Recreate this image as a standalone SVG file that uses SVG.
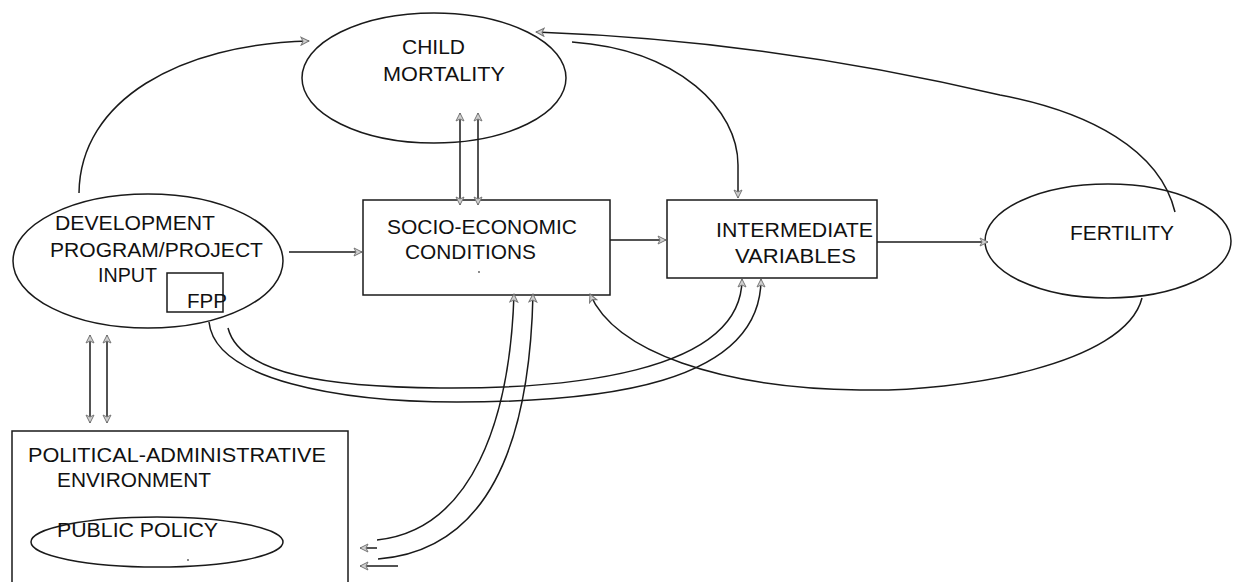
<svg xmlns="http://www.w3.org/2000/svg" width="1234" height="582" viewBox="0 0 1234 582">
<defs>
<marker id="ah" viewBox="0 0 10 10" refX="9" refY="5" markerWidth="10" markerHeight="10" markerUnits="userSpaceOnUse" orient="auto-start-reverse">
<path d="M1,1 L9,5 L1,9 L3,5 z" fill="#cfcfcf" stroke="#777" stroke-width="1"/>
</marker>
<style>
.shape{fill:none;stroke:#1a1a1a;stroke-width:1.5}
.ln{fill:none;stroke:#1a1a1a;stroke-width:1.5}
.arr{marker-end:url(#ah)}
.both{marker-start:url(#ah);marker-end:url(#ah)}
text{font-family:"Liberation Sans",Arial,sans-serif;font-size:20px;fill:#111}
</style>
</defs>
<rect width="1234" height="582" fill="#fff"/>

<g id="child-mortality">
<ellipse class="shape" cx="434" cy="78" rx="132" ry="65"/>
<text x="402" y="54" textLength="63" lengthAdjust="spacingAndGlyphs">CHILD</text>
<text x="383" y="81" textLength="122" lengthAdjust="spacingAndGlyphs">MORTALITY</text>
</g>

<g id="development">
<ellipse class="shape" cx="148" cy="261" rx="135" ry="67"/>
<text x="55" y="230" textLength="160" lengthAdjust="spacingAndGlyphs">DEVELOPMENT</text>
<text x="50" y="257" textLength="213" lengthAdjust="spacingAndGlyphs">PROGRAM/PROJECT</text>
<text x="98" y="282" textLength="59" lengthAdjust="spacingAndGlyphs">INPUT</text>
</g>

<g id="fpp">
<rect class="shape" x="167" y="273" width="56" height="39"/>
<text x="187" y="308" textLength="40" lengthAdjust="spacingAndGlyphs">FPP</text>
</g>

<g id="socio-economic">
<rect class="shape" x="363" y="200" width="247" height="95"/>
<text x="387" y="234" textLength="190" lengthAdjust="spacingAndGlyphs">SOCIO-ECONOMIC</text>
<text x="405" y="259" textLength="131" lengthAdjust="spacingAndGlyphs">CONDITIONS</text>
<circle cx="479" cy="272" r="0.9" fill="#555"/>
</g>

<g id="intermediate">
<rect class="shape" x="667" y="200" width="210" height="78"/>
<text x="716" y="237" textLength="157" lengthAdjust="spacingAndGlyphs">INTERMEDIATE</text>
<text x="735" y="263" textLength="121" lengthAdjust="spacingAndGlyphs">VARIABLES</text>
</g>

<g id="fertility">
<ellipse class="shape" cx="1108" cy="241" rx="123" ry="57"/>
<text x="1070" y="240" textLength="104" lengthAdjust="spacingAndGlyphs">FERTILITY</text>
</g>

<g id="political">
<rect class="shape" x="12" y="431" width="336" height="170"/>
<text x="28" y="462" textLength="298" lengthAdjust="spacingAndGlyphs">POLITICAL-ADMINISTRATIVE</text>
<text x="57" y="487" textLength="154" lengthAdjust="spacingAndGlyphs">ENVIRONMENT</text>
</g>

<g id="public-policy">
<ellipse class="shape" cx="157" cy="542" rx="126" ry="25"/>
<text x="57" y="537" textLength="161" lengthAdjust="spacingAndGlyphs">PUBLIC POLICY</text>
<circle cx="188" cy="560" r="0.9" fill="#555"/>
</g>

<g id="connectors">
<path class="ln arr" d="M79 193 C80 100 180 44 309 41"/>
<path class="ln arr" d="M289 252 H362"/>
<path class="ln both" d="M460 205 V113"/>
<path class="ln both" d="M478 205 V113"/>
<path class="ln arr" d="M610 240 H666"/>
<path class="ln arr" d="M877 242 H988"/>
<path class="ln arr" d="M572 42 C680 50 738 110 738 165 V198"/>
<path class="ln arr" d="M1175 212 C1160 150 1090 112 1000 95 C860 62 700 38 536 32"/>
<path class="ln arr" d="M1142 298 C1125 365 960 392 860 390 C720 388 615 352 590 294"/>
<path class="ln arr" d="M228 328 C240 375 330 387 440 388 C560 389 742 375 742 279"/>
<path class="ln arr" d="M209 322 C215 380 340 402 457 402 C600 402 761 385 761 279"/>
<path class="ln arr" d="M377 540 C472 530 510 420 514 294"/>
<path class="ln arr" d="M378 559 C495 550 530 430 533 294"/>
<path class="ln arr" d="M377 548 H360"/>
<path class="ln arr" d="M398 566 H360"/>
<path class="ln both" d="M90 423 V335"/>
<path class="ln both" d="M107 423 V335"/>
</g>
</svg>
